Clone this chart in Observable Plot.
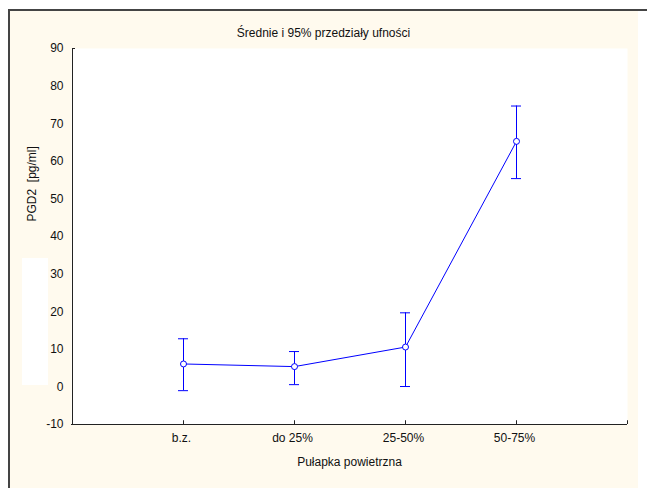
<!DOCTYPE html>
<html>
<head>
<meta charset="utf-8">
<script src="https://cdn.jsdelivr.net/npm/d3@7"></script>
<script src="https://cdn.jsdelivr.net/npm/@observablehq/plot@0.6"></script>
<style>
  html, body { margin: 0; padding: 0; background: #ffffff; }
  #wrap { position: relative; width: 647px; height: 488px; overflow: hidden; font-family: "Liberation Sans", Arial, sans-serif; }
  #cream { position: absolute; left: 10px; top: 11px; width: 628px; height: 477px; background: #fffaee; }
  #btop { position: absolute; left: 8px; top: 9px; width: 639px; height: 2px; background: #444444; }
  #bleft { position: absolute; left: 8px; top: 9px; width: 2px; height: 479px; background: #444444; }
  #patch { position: absolute; left: 22px; top: 258px; width: 26px; height: 127px; background: #ffffff; }
  #chart { position: absolute; left: 0; top: 0; }
</style>
</head>
<body>
<div id="wrap">
  <div id="cream"></div>
  <div id="btop"></div>
  <div id="bleft"></div>
  <div id="patch"></div>
  <div id="chart"></div>
</div>
<script>
const categories = ["b.z.", "do 25%", "25-50%", "50-75%"];
const means = [6.1, 5.4, 10.6, 65.3];
const lower = [-1.0, 0.6, 0.1, 55.4];
const upper = [12.8, 9.4, 19.7, 74.7];
const yTicks = [-10, 0, 10, 20, 30, 40, 50, 60, 70, 80, 90];
const title = "Średnie i 95% przedziały ufności";
const xLabel = "Pułapka powietrzna";
const yLabel = "PGD2  [pg/ml]";

const padL = "", padR = " ";
const xDomain = [padL, ...categories, padR];
const data = categories.map((c, i) => ({cat: c, mean: means[i], lo: lower[i], hi: upper[i]}));
const blue = "#0000ff";
const font = "Liberation Sans, Arial, sans-serif";

const chart = Plot.plot({
  width: 647,
  height: 488,
  marginLeft: 71,
  marginRight: 20,
  marginTop: 48,
  marginBottom: 64,
  style: {background: "transparent", fontFamily: font, fontSize: "12px", color: "#111"},
  x: {type: "point", domain: xDomain, padding: 0},
  y: {domain: [-10, 90]},
  marks: [
    Plot.frame({fill: "white", stroke: "none"}),
    Plot.axisY({ticks: yTicks, tickSize: 0, tickPadding: 8, label: null, fill: "#111", tickFormat: d => String(d)}),
    Plot.axisX({tickSize: 0, tickPadding: 9, label: null, tickFormat: d => d.trim(), fill: "#111", dx: -2}),
    Plot.ruleY([-10], {stroke: "#222", strokeWidth: 1}),
    Plot.ruleX([padL], {y1: -10, y2: 90, stroke: "#222", strokeWidth: 1}),
    Plot.ruleY([90], {x1: () => padL, x2: () => padL, insetRight: -3, stroke: "#222"}),
    Plot.ruleX([...categories, padR], {y1: -10, y2: -9, stroke: "#222"}),
    Plot.ruleX(data, {x: "cat", y1: "lo", y2: "hi", stroke: blue, strokeWidth: 1}),
    Plot.ruleY(data, {x1: "cat", x2: "cat", y: "hi", insetLeft: -5, insetRight: -5, stroke: blue}),
    Plot.ruleY(data, {x1: "cat", x2: "cat", y: "lo", insetLeft: -5, insetRight: -5, stroke: blue}),
    Plot.line(data, {x: "cat", y: "mean", stroke: blue, strokeWidth: 1}),
    Plot.dot(data, {x: "cat", y: "mean", r: 3, fill: "white", stroke: blue, strokeWidth: 1}),
    Plot.text([title], {frameAnchor: "top", dx: -26, dy: -20, fill: "#111", fontSize: 12}),
    Plot.text([xLabel], {frameAnchor: "bottom", dy: 41, fill: "#111", fontSize: 12}),
    Plot.text([yLabel], {frameAnchor: "left", dx: -39, dy: -15, rotate: -90, fill: "#111", fontSize: 12})
  ]
});
document.getElementById("chart").appendChild(chart);
</script>
</body>
</html>
